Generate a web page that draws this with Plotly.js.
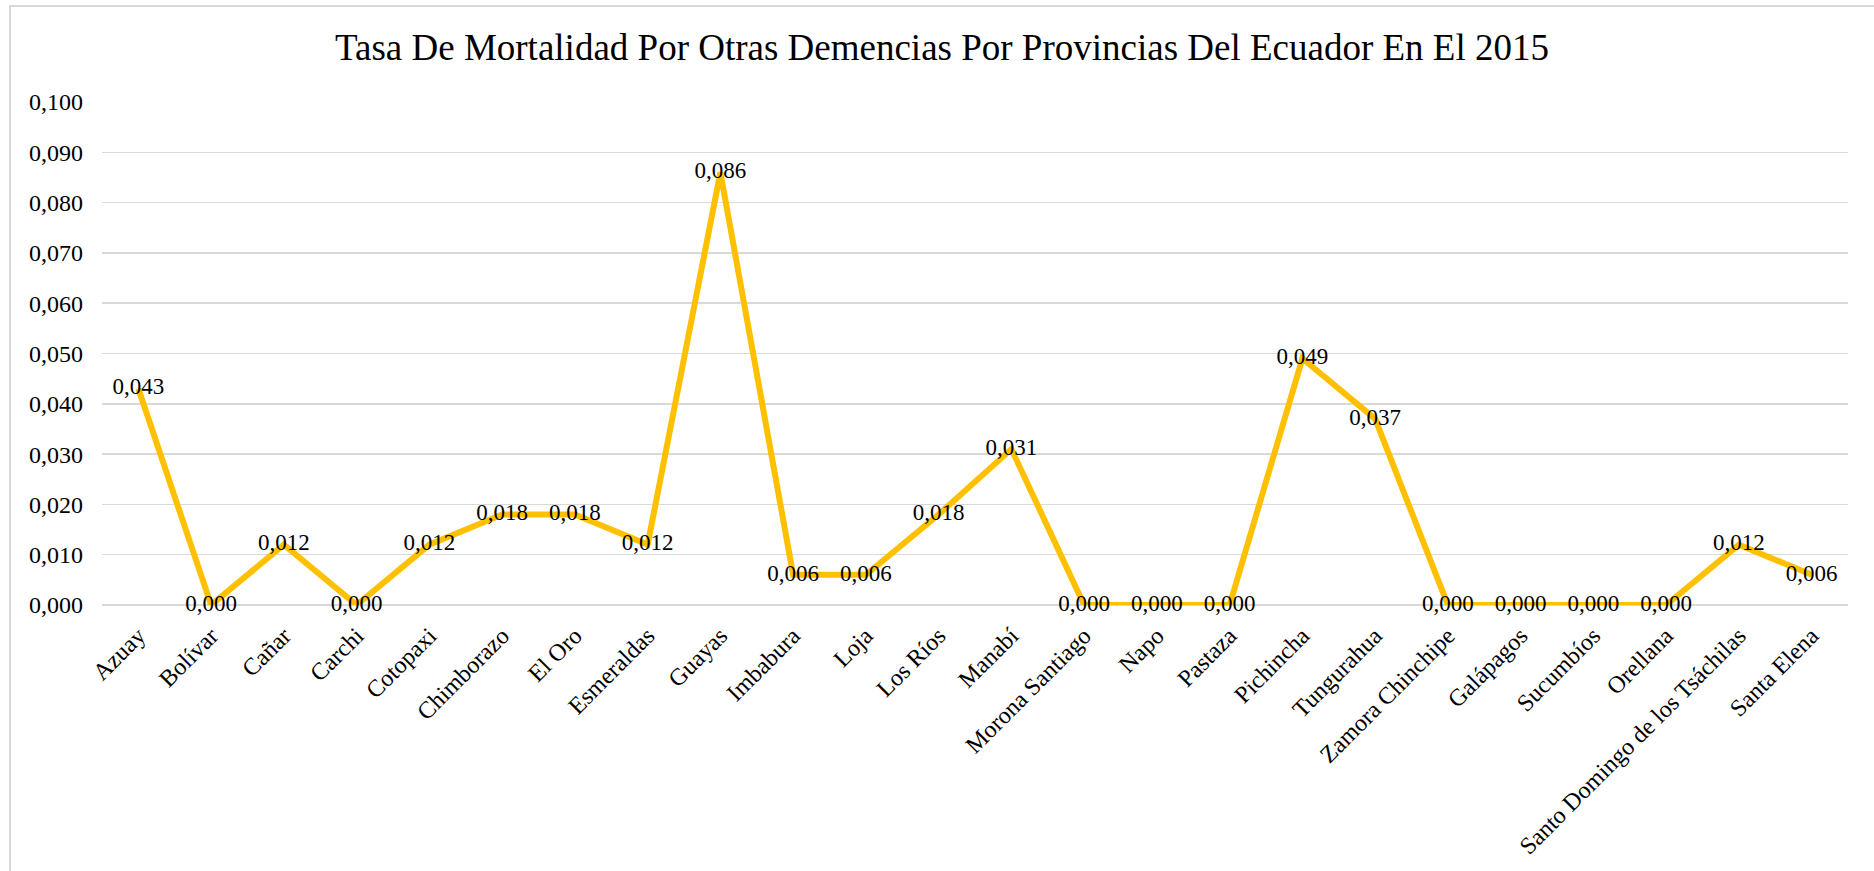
<!DOCTYPE html>
<html>
<head>
<meta charset="utf-8">
<script src="https://cdn.plot.ly/plotly-3.0.1.min.js"></script>
<style>
html, body { margin: 0; padding: 0; background: #ffffff; overflow: hidden; }
#frame { position: absolute; left: 9px; top: 5px; width: 1900px; height: 900px; border: 2px solid #d9d9d9; box-sizing: border-box; z-index: 0; }
#chart { position: absolute; left: 0; top: 0; width: 1874px; height: 871px; z-index: 1; }
</style>
</head>
<body>
<div id="frame"></div>
<div id="chart"></div>
<script>
const provincias = ["Azuay", "Bolívar", "Cañar", "Carchi", "Cotopaxi", "Chimborazo", "El Oro", "Esmeraldas", "Guayas", "Imbabura", "Loja", "Los Ríos", "Manabí", "Morona Santiago", "Napo", "Pastaza", "Pichincha", "Tungurahua", "Zamora Chinchipe", "Galápagos", "Sucumbíos", "Orellana", "Santo Domingo de los Tsáchilas", "Santa Elena"];
const tasa = [0.043, 0.000, 0.012, 0.000, 0.012, 0.018, 0.018, 0.012, 0.086, 0.006, 0.006, 0.018, 0.031, 0.000, 0.000, 0.000, 0.049, 0.037, 0.000, 0.000, 0.000, 0.000, 0.012, 0.006];
const yTicks = [0, 0.01, 0.02, 0.03, 0.04, 0.05, 0.06, 0.07, 0.08, 0.09, 0.1];
const titulo = "Tasa De Mortalidad Por Otras Demencias Por Provincias Del Ecuador En El 2015";

const serif = "Liberation Serif, Times New Roman, serif";

const trace = {
  type: "scatter",
  mode: "lines+text",
  x: provincias,
  y: tasa,
  line: { color: "#FFC000", width: 6 },
  texttemplate: "%{y:.3f}",
  textposition: "middle center",
  textfont: { family: serif, size: 23, color: "#000000" },
  cliponaxis: false,
  hoverinfo: "x+y"
};

const layout = {
  width: 1874,
  height: 871,
  separators: ",.",
  paper_bgcolor: "rgba(0,0,0,0)",
  plot_bgcolor: "rgba(0,0,0,0)",
  margin: { l: 102, r: 26, t: 102, b: 266 },
  showlegend: false,
  title: {
    text: titulo,
    font: { family: serif, size: 37, color: "#000000" },
    x: 942 / 1874,
    xanchor: "center",
    y: 0.946,
    yanchor: "middle"
  },
  xaxis: {
    type: "category",
    range: [-0.5, provincias.length - 0.5],
    tickangle: -45,
    tickfont: { family: serif, size: 24, color: "#000000" },
    showgrid: false,
    showline: false,
    zeroline: false,
    ticks: "",
    ticklabelstandoff: 11
  },
  yaxis: {
    range: [0, 0.1],
    tickvals: yTicks,
    tickformat: ".3f",
    tickfont: { family: serif, size: 24, color: "#000000" },
    showgrid: true,
    gridcolor: "#d9d9d9",
    gridwidth: 1.5,
    zeroline: true,
    zerolinecolor: "#d9d9d9",
    zerolinewidth: 1.5,
    showline: false,
    ticks: "",
    ticklabelstandoff: 18
  }
};

Plotly.newPlot("chart", [trace], layout, { displayModeBar: false, staticPlot: true });
</script>
</body>
</html>
